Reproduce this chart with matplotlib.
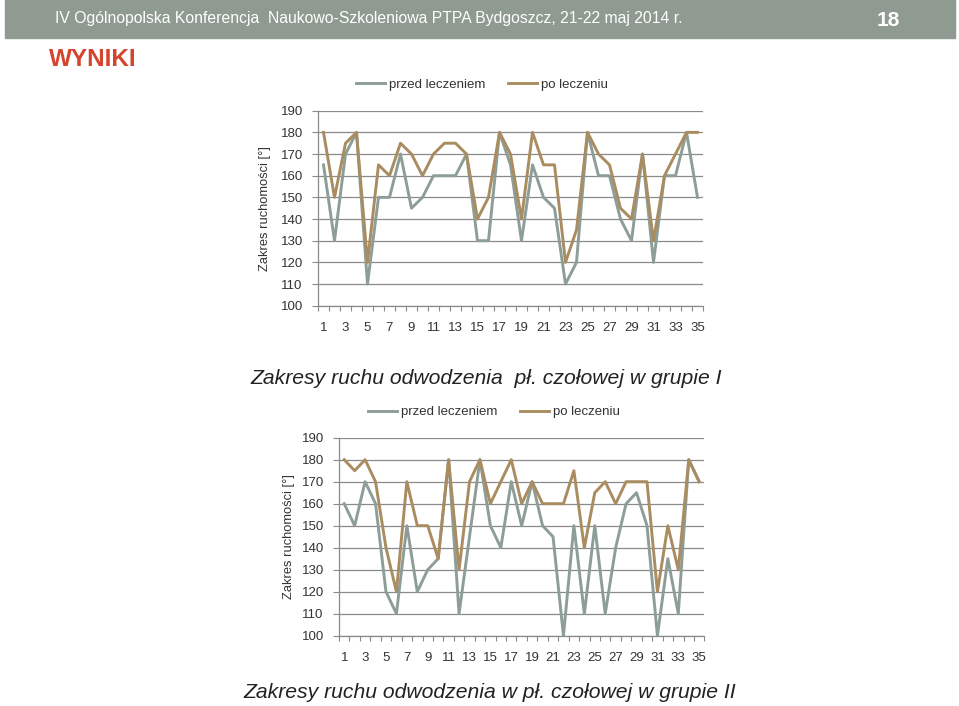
import matplotlib
matplotlib.use("Agg")
import matplotlib.pyplot as plt
from matplotlib import font_manager
import numpy as np

# values (35 patients each)
patients = list(range(1, 36))
g1_przed = [165, 130, 170, 180, 110, 150, 150, 170, 145, 150, 160, 160, 160, 170, 130, 130, 180, 165,
            130, 165, 150, 145, 110, 120, 180, 160, 160, 140, 130, 170, 120, 160, 160, 180, 150]
g1_po = [180, 150, 175, 180, 120, 165, 160, 175, 170, 160, 170, 175, 175, 170, 140, 150, 180, 170,
         140, 180, 165, 165, 120, 135, 180, 170, 165, 145, 140, 170, 130, 160, 170, 180, 180]
g2_przed = [160, 150, 170, 160, 120, 110, 150, 120, 130, 135, 180, 110, 145, 180, 150, 140, 170, 150,
            170, 150, 145, 100, 150, 110, 150, 110, 140, 160, 165, 150, 100, 135, 110, 180, 170]
g2_po = [180, 175, 180, 170, 140, 120, 170, 150, 150, 135, 180, 130, 170, 180, 160, 170, 180, 160,
         170, 160, 160, 160, 175, 140, 165, 170, 160, 170, 170, 170, 120, 150, 130, 180, 170]
series_names = ["przed leczeniem", "po leczeniu"]
y_ticks = list(range(100, 200, 10))
x_labels = [str(p) if p % 2 == 1 else "" for p in patients]

header = "IV Ogólnopolska Konferencja  Naukowo-Szkoleniowa PTPA Bydgoszcz, 21-22 maj 2014 r."
slide_no = "18"
section = "WYNIKI"
title1 = "Zakresy ruchu odwodzenia  pł. czołowej w grupie I"
title2 = "Zakresy ruchu odwodzenia w pł. czołowej w grupie II"
ylabel1 = "Zakres ruchomości [°]"
ylabel2 = "Zakres ruchomości [°]"

GRAY = "#8d9d97"
BROWN = "#a98c60"
GRID = "#8a8a8a"
TXT = "#333333"

names = {f.name for f in font_manager.fontManager.ttflist}
narrow = "Liberation Sans Narrow" if "Liberation Sans Narrow" in names else "Liberation Sans"
plt.rcParams["font.family"] = ["Liberation Sans", "DejaVu Sans"]

W, H = 959, 706
fig = plt.figure(figsize=(W / 100, H / 100), dpi=100)


def px(x, y):
  return x / W, 1 - y / H


# header band
fig.patches.append(plt.Rectangle(px(5, 38), 950 / W, 38 / H, transform=fig.transFigure,
                                 color="#8f9b90", zorder=0))
fig.text(*px(55, 19), header, color="white", fontsize=11.3, family=narrow, va="center", ha="left")
fig.text(*px(888, 20), slide_no, color="white", fontsize=15, fontweight="bold", family=narrow,
         va="center", ha="center")
fig.text(*px(49, 59), section, color="#d5442c", fontsize=17.5, fontweight="bold", family=narrow,
         va="center", ha="left")


def draw_chart(rect, przed, po, ylabel, ylabel_x, legend_xy, title, title_xy):
  l, t, r, b = rect
  ax = fig.add_axes([l / W, 1 - b / H, (r - l) / W, (b - t) / H])
  ax.plot(patients, przed, color=GRAY, lw=2.1, label=series_names[0], zorder=3)
  ax.plot(patients, po, color=BROWN, lw=2.1, label=series_names[1], zorder=4)
  ax.set_xlim(0.5, 35.5)
  ax.set_ylim(100, 190)
  ax.set_yticks(y_ticks)
  ax.set_xticks(patients)
  ax.set_xticklabels(x_labels)
  ax.set_xticks(np.arange(0.5, 36, 1), minor=True)
  ax.tick_params(axis="x", which="major", length=0, pad=12, labelsize=9.5, labelcolor=TXT)
  ax.tick_params(axis="x", which="minor", length=3.5, color=GRID, width=0.8)
  ax.tick_params(axis="y", length=4, color=GRID, width=0.8, pad=7, labelsize=9.5, labelcolor=TXT)
  ax.grid(axis="y", color=GRID, lw=0.9)
  ax.set_axisbelow(True)
  for s in ["top", "right"]:
    ax.spines[s].set_visible(False)
  for s in ["left", "bottom"]:
    ax.spines[s].set_color(GRID)
    ax.spines[s].set_linewidth(0.9)
  fig.text(*px(ylabel_x, (t + b) / 2), ylabel, rotation=90, fontsize=9.3, color=TXT,
           va="center", ha="center")
  ax.legend(loc="center", bbox_to_anchor=px(*legend_xy), bbox_transform=fig.transFigure,
            ncol=2, frameon=False, fontsize=9.5, handlelength=2.2, handletextpad=0.3,
            columnspacing=1.7, labelcolor=TXT)
  fig.text(*px(*title_xy), title, fontsize=15.2, style="italic", color="#222222",
           va="center", ha="center")
  return ax


draw_chart((318, 110.7, 703, 305.7), g1_przed, g1_po, ylabel1, 265, (482, 85),
           title1, (486, 378))
draw_chart((339, 437.7, 704.4, 635.7), g2_przed, g2_po, ylabel2, 289, (494, 412),
           title2, (490, 692))

fig.savefig("out.png", dpi=100)
